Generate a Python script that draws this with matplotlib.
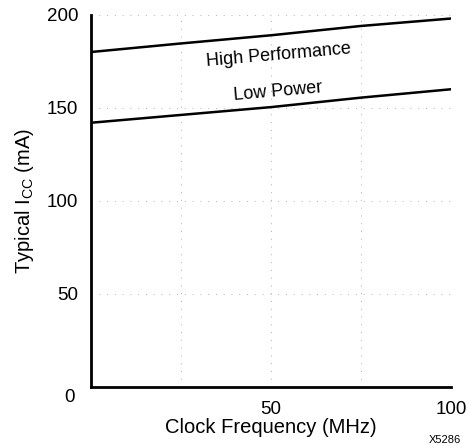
import matplotlib
matplotlib.use("Agg")
import matplotlib.pyplot as plt
import matplotlib.transforms as mtransforms
import numpy as np

plt.rcParams['font.family'] = ['Liberation Sans', 'DejaVu Sans']

freq = [0, 25, 50, 75, 100]
high_perf = [180, 184.6, 189, 194, 198]
low_power = [142, 146.2, 150.4, 155.5, 160]

fig = plt.figure(figsize=(4.69, 4.48), dpi=100)
ax = fig.add_axes([0.194, 0.136, 0.768, 0.831])

# faint dotted grid
for gx in [25, 50, 75, 100]:
    ax.axvline(gx, color='#b0b0b0', lw=0.7, ls=(0, (1, 7)), zorder=0)
for gy in [50, 100, 150, 200]:
    ax.axhline(gy, color='#b0b0b0', lw=0.7, ls=(0, (1, 7)), zorder=0)

ax.plot(freq, high_perf, color='black', lw=1.8)
ax.plot(freq, low_power, color='black', lw=1.8)

ax.text(52, 178.5, "High Performance", fontsize=13, ha='center', va='center', rotation=5)
ax.text(52, 158.8, "Low Power", fontsize=13, ha='center', va='center', rotation=5)

ax.set_xlim(0, 100)
ax.set_ylim(0, 200)
ax.set_xticks([50, 100])
ax.set_yticks([0, 50, 100, 150, 200])
ax.tick_params(length=0, labelsize=13.5, pad=9)
ax.tick_params(axis='x', pad=10)

# the "0" sits a little below the corner
lbl0 = ax.get_yticklabels()[0]
lbl0.set_transform(lbl0.get_transform() +
                   mtransforms.ScaledTranslation(-3 / 72, -6 / 72, fig.dpi_scale_trans))

for s in ['top', 'right']:
    ax.spines[s].set_visible(False)
for s in ['left', 'bottom']:
    ax.spines[s].set_linewidth(2)

ax.set_xlabel("Clock Frequency (MHz)", fontsize=14.5, labelpad=0)
ax.set_ylabel("Typical I$_{\\mathregular{CC}}$ (mA)", fontsize=14.5, labelpad=8)
fig.text(0.949, 0.012, "X5286", fontsize=8, ha='center')

fig.savefig("out.png", dpi=100)
